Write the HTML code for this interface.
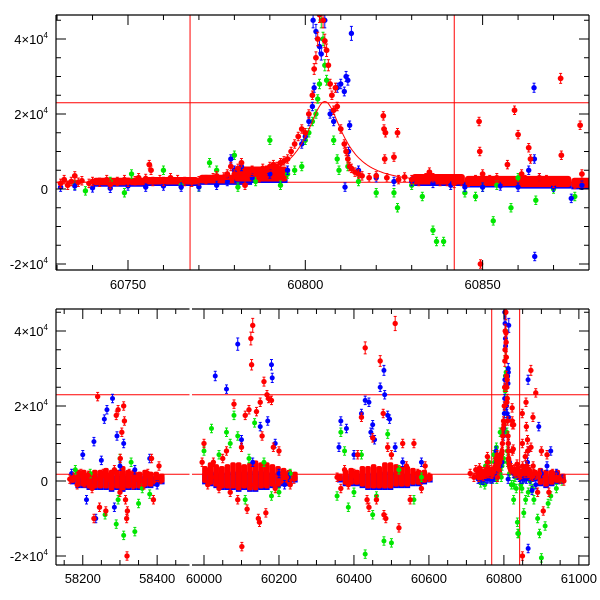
<!DOCTYPE html>
<html><head><meta charset="utf-8"><style>
body{margin:0;background:#fff}
svg{display:block;font-family:"Liberation Sans",sans-serif}
</style></head><body>
<svg id="chart" width="600" height="600"></svg>
<script>
// ---------- DATA (time MJD, flux in units of 1000) ----------
const topRedT=[60731,60732,60733,60734,60735,60736,60737,60739,60740,60742,60744,60745,60747,60749,60750,60752,60753,60755,60756,60756.5,60757,60759,60760,60762,60764,60766,60768,60770,60772,60774,60775,60777,60778,60779,60780,60781,60782,60783,60784,60785,60786,60787,60788,60789,60790,60791,60792,60793,60794,60795,60796,60797,60798,60799,60800,60801,60802,60802.5,60803,60803.5,60804,60805,60805.5,60806,60806.5,60807,60807.5,60808,60808.5,60809,60810,60811,60811.5,60812,60812.5,60813,60814,60815,60816,60818,60820,60822,60822.2,60822.4,60822.6,60823,60825,60826,60826.3,60828,60830,60832,60834,60835,60836,60838,60840,60842,60844,60846,60848,60849,60849.2,60849.4,60850,60852,60854,60856,60857,60859,60860,60861,60862,60863,60863.5,60864,60866,60868,60870,60872,60872.2,60874,60876,60877.5,60878];
const topRedF=[1.5,2.5,1,2,3.5,1.8,2.2,1.5,2,1.8,2.5,1.2,2,2.5,1.8,2.2,3,2.8,6.5,5,2,2.5,2,3,2.5,2,1.8,2.2,2.5,3,3.5,3.2,4,6,4,5.5,7,1,4,5,4.5,3,5.5,5,6,6.5,6,7,7.5,8,10,12,14,16,15,20,25,32,35,40,46.5,45,39.5,37,33,28,25,21,27,22,16,12,10,8,6,5.5,4.5,4,3.5,3,3.5,19.5,16,8,15,3,8.5,15,2.5,3.2,2.5,2,3,4.5,3,2,2,1.5,2,1.8,2.5,18,10,-20,4,2.5,3,2,6.5,21,14.5,4,2.5,11,8,2,3,2.5,1.5,29.5,9,1.8,1.2,17,4];
const topBlueT=[60731,60735,60740,60745,60750,60755,60760,60765,60770,60775,60778,60779,60780,60782,60785,60790,60795,60799,60800,60801,60802,60802.5,60802.2,60803,60804,60804.5,60805.5,60807,60808,60809,60810,60811,60811.5,60812,60812.5,60813,60811.2,60812.2,60815,60820,60825,60830,60836,60841,60845,60850,60855,60860,60863,60864.5,60864.6,60864.7,60866,60870,60875,60878];
const topBlueF=[0.5,0.8,0.3,0.2,0.8,0.5,0.8,0.5,0.6,1,2,8,5,6,3,4,5,12,14,18,22,27,45,42,38,36,45,20,18,27,28,26,30,29,17,41.5,0.5,10,5,3,2,2,1.5,1,0.5,0.5,0.8,0.5,5,27,8,-18,3,0.5,-2.5,1];
const topGreenT=[60735,60738,60745,60749,60751,60760,60765,60770,60773,60775,60780,60781,60786,60790,60793,60795,60797,60799,60800,60801,60802,60803,60803.5,60804,60804.5,60805,60805.5,60806,60808,60809,60809.5,60812,60815,60820,60825,60826,60830,60833,60836,60837,60839,60845,60848,60850,60853,60854,60858,60860,60865,60870,60876];
const topGreenF=[1,-0.5,2,-1,4,5,1,0.5,7,5,9,0.5,2,13,1,4,5,6,13,15,18,20,24,28,45,40,33,29,13,8,5,6,2,-1,-1,-5,1,-2,-11,-14,-14,-1,-2,0.5,-8.5,1,-5,3,-3,0,-2];

const botRedT=[58165,58175,58185,58195,58205,58215,58225,58235,58240,58245,58255,58262,58270,58278,58285,58290,58295,58300,58305,58310,58312,58315,58318,58319,58325,58335,58345,58355,58365,58375,58385,58390,58400,58405,58410,58230,58301,58320,
59995,60000,60005,60010,60015,60025,60030,60040,60050,60060,60070,60080,60090,60100,60110,60115,60120,60125,60127,60130,60135,60140,60145,60148,60150,60155,60160,60165,60168,60172,60180,60185,60190,60200,60210,60220,60230,60240,60101,
60355,60365,60375,60385,60400,60410,60420,60430,60435,60440,60450,60460,60470,60478,60480,60485,60490,60500,60510,60520,60530,60540,60550,60560,60570,60580,60590,60600,
60710,60720,60725,60880,60885,60890,60895,60900,60905,60910,60915,60920,60930,60940,60950,60960];
const botRedF=[0.5,1,-1,2,-0.5,1.5,-2,0.5,22.5,-7,2,-8,1,-1,3,17.5,19,-3,13,20,16,-5,-10,-20,2,-1,1,0,-1,2,6,-5,1,4,0.5,-10,6,-8,
5,10,2,-1,3,5,1,-2,6,8,-3,20.5,-5,9,17.5,-7.5,19,38,31,41.5,-1,18.5,-10,-11,21,12,26.5,-8.5,23,22,21.5,9,-2,8,2,1,-1,0.5,-17.5,
1,-2,3,-1,2,7,17,35.5,-5,-7,11.5,-5,32,18,-9,-10,9,7,42,-12.5,10,4,-5,10,2,-2,4,1,
2,1,3,2,23.5,-3,2,8,-8,1,7,-3,2,1,0.5,0];
const botBlueT=[58170,58200,58210,58230,58235,58250,58258,58265,58280,58285,58292,58300,58310,58340,58380,58400,
60030,60060,60090,60100,60130,60150,60170,60180,60182,60190,60200,60215,60225,
60360,60365,60380,60400,60420,60430,60440,60445,60450,60455,60470,60480,60482,60490,60495,60510,60530,60580,
60885,60893,60900,60915,60925,60940,60955];
const botBlueF=[2,7,-5,10.5,-10,5.5,16.5,19,22,-7,12,4,10,3,6,-1,
28,24.5,36.5,11,5,14.5,16,31,27.5,10,2,-1,1,
9,16,14,7,18,21.5,21,13,15,11,25,29.5,23,17.5,16.5,9,5,5,
-1,14.5,2,4,8,2,0.5];
const botGreenT=[58180,58220,58260,58290,58295,58310,58330,58340,58350,58360,58380,58300,
60000,60020,60040,60060,60070,60080,60090,60110,60120,60135,60160,60180,60200,60230,
60355,60365,60375,60385,60400,60420,60430,60450,60460,60480,60490,60500,60520,60560,60580,
60880,60890,60895,60900,60910,60918,60925,60940,60955];
const botGreenF=[3,2,-9,-11.5,-5,-14.5,5,-13.5,-6,-2,-3.5,6,
8,14,7,13,10,17.5,12,-5,6,15.5,5,-4,-3,2,
-4,13,8,-7,-3,7,-19.5,-9,-4,-16,12.5,-16.5,3,-5,1,
-5,-10,-14,-20.5,-12,-6,-4,-2,0];

// dense baseline bands per epoch: time, upper and lower flux extent
const bandT=[58165,58180,58195,58210,58225,58240,58255,58270,58285,58300,58315,58330,58345,58360,58375,58390,58405,
59995,60010,60025,60040,60055,60070,60085,60100,60115,60130,60145,60160,60175,60190,60205,60220,60235,
60355,60370,60385,60400,60415,60430,60445,60460,60475,60490,60505,60520,60535,60550,60565,60580,60595,
60725,60740,60755,60770,60780,60830,60845,60860,60875,60890,60905,60920,60935,60950];
const bandHi=[2,3,3,2.5,3,3,3.5,3,3,4,3,3,2.5,3,2.5,2.5,2,
4,5,4.5,4,4.5,5,5,4.5,5,5.5,5,5,4.5,4,3.5,3,2.5,
2,3,3.5,3,4,4,4.5,4,5,5,4.5,4,4,3.5,3,3,2,
2.8,3,3.2,3.8,6,4,3.5,3.5,3,3.5,3,3,3,2];
const bandLo=[-0.5,-1.5,-1.5,-2,-2,-2,-2,-2.5,-2,-2.5,-2,-2,-2,-1.5,-1.5,-1,-0.5,
-0.5,-1,-1.5,-2,-2,-2,-2.5,-2,-2.5,-2.5,-2,-2,-1.5,-1.5,-1,-1,0,
0,-1,-1,-1,-1.5,-2,-2,-2,-2,-2,-1.5,-1.5,-1.5,-1,-1,-0.5,0,
1,1,1.2,1.5,2,1.2,0.8,0.5,0.3,-1,-1.5,-1,-0.5,0];

// microlensing model parameters and reference lines
const modelT0=[60805.5], modelTE=[15], modelU0=[0.33], modelFs=[10], modelFb=[1.8];
const hLines=[23,1.8];
const vLines=[60767.5,60842];
const yTickLabels=[-2,0,2,4];
const topXLabels=[60750,60800,60850];
const botXLabels=[58200,58400,60000,60200,60400,60600,60800,61000];

// ---------- DRAW ----------
const NS="http://www.w3.org/2000/svg";
const svg=document.getElementById('chart');
function mk(tag,attrs,parent){const e=document.createElementNS(NS,tag);for(const k in attrs)e.setAttribute(k,attrs[k]);(parent||svg).appendChild(e);return e;}
const colors={red:'#ff0000',blue:'#0000ff',green:'#00e600'};

function panel(name,x0,x1,yTop,yBot,segs,yOfZero,pxPer1e4){
  const y=f=>yOfZero-f*pxPer1e4/10;
  const xs=segs.map(s=>(t=>s.px0+(t-s.t0)*(s.px1-s.px0)/(s.t1-s.t0)));
  const g=mk('g',{});
  
  
  const clips=segs.map((s,i)=>{const id=name+'-clip'+i;const c=mk('clipPath',{id:id},g);mk('rect',{x:s.px0,y:yTop,width:s.px1-s.px0,height:yBot-yTop},c);return id;});
  return {g,y,xs,segs,clips,yTop,yBot};
}
function segFor(P,t){for(let i=0;i<P.segs.length;i++){const s=P.segs[i];if(t>=s.t0&&t<=s.t1)return i;}return -1;}

function drawPoints(P,T,F,color,name,r){
  const g=mk('g',{},P.g);
  
  
  for(let i=0;i<T.length;i++){
    const si=segFor(P,T[i]);if(si<0)continue;
    const cx=P.xs[si](T[i]),cy=P.y(F[i]);
    const err=Math.max(1.5,Math.abs(F[i])*0.06)*0.75;
    const e1=P.y(F[i]+err),e2=P.y(F[i]-err);
    const eg=mk('g',{'clip-path':'url(#'+P.clips[si]+')'},g);
    mk('line',{x1:cx,x2:cx,y1:e1,y2:e2,stroke:colors[color],'stroke-width':1},eg);
    mk('line',{x1:cx-1.5,x2:cx+1.5,y1:e1,y2:e1,stroke:colors[color],'stroke-width':1},eg);
    mk('line',{x1:cx-1.5,x2:cx+1.5,y1:e2,y2:e2,stroke:colors[color],'stroke-width':1},eg);
    const c=mk('circle',{cx:cx,cy:cy,r:r,fill:colors[color]},eg);
    
    
  }
}
function drawBands(P,rx){
  const g=mk('g',{},P.g);
  
  
  for(let i=0;i<bandT.length;i++){
    const si=segFor(P,bandT[i]);if(si<0)continue;
    const eg=mk('g',{'clip-path':'url(#'+P.clips[si]+')'},g);
    const x0=P.xs[si](bandT[i]);
    const x1=P.xs[si](bandT[i]+15);
    const bt=P.y(bandHi[i]*0.5), bb=P.y(bandLo[i]-0.4);
    mk('rect',{x:x0,y:bt,width:x1-x0,height:Math.max(2,bb-bt),fill:colors.blue},eg);
    const rr=mk('rect',{x:x0,y:P.y(bandHi[i]),width:x1-x0,height:P.y(bandLo[i])-P.y(bandHi[i]),fill:colors.red,rx:rx},eg);
    
    
  }
}
function model(t){const u0=modelU0[0];const tau=(t-modelT0[0])/modelTE[0];const u=Math.sqrt(u0*u0+tau*tau);const A=(u*u+2)/(u*Math.sqrt(u*u+4));return modelFb[0]+modelFs[0]*(A-1);}

function drawFrame(P,name,xTickSets,labelsX,labelY){
  const g=mk('g',{},P.g);
  
  
  P.segs.forEach((s,si)=>{
    mk('line',{x1:s.px0,x2:s.px1,y1:P.yTop,y2:P.yTop,stroke:'#000','stroke-width':1.2},g);
    mk('line',{x1:s.px0,x2:s.px1,y1:P.yBot,y2:P.yBot,stroke:'#000','stroke-width':1.2},g);
    const ts=xTickSets[si];
    for(let t=ts.start;t<=s.t1;t+=ts.minor){
      const x=P.xs[si](t);if(x<s.px0+1||x>s.px1-1)continue;
      const major=Math.abs(((t-ts.start0)%ts.major))<1e-6;
      const L=major?10:5;
      mk('line',{x1:x,x2:x,y1:P.yBot,y2:P.yBot-L,stroke:'#000','stroke-width':1},g);
      mk('line',{x1:x,x2:x,y1:P.yTop,y2:P.yTop+L,stroke:'#000','stroke-width':1},g);
    }
  });
  const xl=P.segs[0].px0, xr=P.segs[P.segs.length-1].px1;
  mk('line',{x1:xl,x2:xl,y1:P.yTop,y2:P.yBot,stroke:'#000','stroke-width':1.2},g);
  mk('line',{x1:xr,x2:xr,y1:P.yTop,y2:P.yBot,stroke:'#000','stroke-width':1.2},g);
  for(let f=-20;f<=45;f+=5){
    const yy=P.y(f);if(yy<P.yTop+1||yy>P.yBot-1)continue;
    const L=(f%20===0)?10:5;
    mk('line',{x1:xl,x2:xl+L,y1:yy,y2:yy,stroke:'#000','stroke-width':1},g);
    mk('line',{x1:xr,x2:xr-L,y1:yy,y2:yy,stroke:'#000','stroke-width':1},g);
  }
  yTickLabels.forEach(v=>{
    const t=mk('text',{x:48,y:P.y(v*10)+5,'text-anchor':'end','font-size':13,fill:'#000'},g);
    
    
    if(v===0){t.textContent='0';}
    else{t.textContent=(v<0?'-':'')+Math.abs(v)+'×10';const s=mk('tspan',{'font-size':8,dy:-6},t);s.textContent='4';}
  });
  labelsX.forEach(v=>{
    const si=segFor(P,v);
    const x=si>=0?P.xs[si](v):P.xs[P.segs.length-1](v);
    const t=mk('text',{x:x,y:labelY,'text-anchor':'middle','font-size':13,fill:'#000'},g);
    
    
    t.textContent=String(v);
  });
}

function drawRefLines(P){
  const g=mk('g',{},P.g);
  
  
  P.segs.forEach(s=>{
    hLines.forEach(h=>{const l=mk('line',{x1:s.px0,x2:s.px1,y1:P.y(h),y2:P.y(h),stroke:'#ff0000','stroke-width':1},g);});
  });
  vLines.forEach(v=>{const si=segFor(P,v);if(si<0)return;const x=P.xs[si](v);const l=mk('line',{x1:x,x2:x,y1:P.yTop,y2:P.yBot,stroke:'#ff0000','stroke-width':1},g);});
}
function drawModel(P){
  const si=segFor(P,modelT0[0]);
  let d='';
  const s=P.segs[si];
  for(let t=Math.max(s.t0,60730);t<=Math.min(s.t1,60880);t+=0.25){d+=(d?'L':'M')+P.xs[si](t).toFixed(1)+','+P.y(model(t)).toFixed(1);}
  const p=mk('path',{d:d,fill:'none',stroke:'#ff0000','stroke-width':1,'clip-path':'url(#'+P.clips[si]+')'},P.g);
  
  
}

// top panel
const TP=panel('top-panel',56,589,15,270,[{t0:60729.7,t1:60880,px0:56,px1:589}],189,37.5);
drawRefLines(TP);
drawBands(TP,3);
drawPoints(TP,topGreenT,topGreenF,'green','green-series',2.7);
drawPoints(TP,topBlueT,topBlueF,'blue','blue-series',2.7);
drawPoints(TP,topRedT,topRedF,'red','red-series',2.9);
drawModel(TP);
drawFrame(TP,'top',[{start:60730,start0:60750,minor:10,major:50}],topXLabels,289);

// bottom panel
const BP=panel('bottom-panel',56,589,309,565,[
  {t0:58128,t1:58487,px0:56,px1:189.5},
  {t0:59968,t1:61027,px0:192,px1:589}],481,37.5);
drawRefLines(BP);
drawBands(BP,2);
const allGT=botGreenT.concat(topGreenT), allGF=botGreenF.concat(topGreenF);
const allBT=botBlueT.concat(topBlueT), allBF=botBlueF.concat(topBlueF);
const allRT=botRedT.concat(topRedT), allRF=botRedF.concat(topRedF);
drawPoints(BP,allGT,allGF,'green','green-series-full',2.5);
drawPoints(BP,allBT,allBF,'blue','blue-series-full',2.5);
drawPoints(BP,allRT,allRF,'red','red-series-full',2.7);
drawFrame(BP,'bottom',[{start:58150,start0:58200,minor:50,major:200},{start:60000,start0:60000,minor:50,major:200}],botXLabels,583);
</script>
</body></html>
